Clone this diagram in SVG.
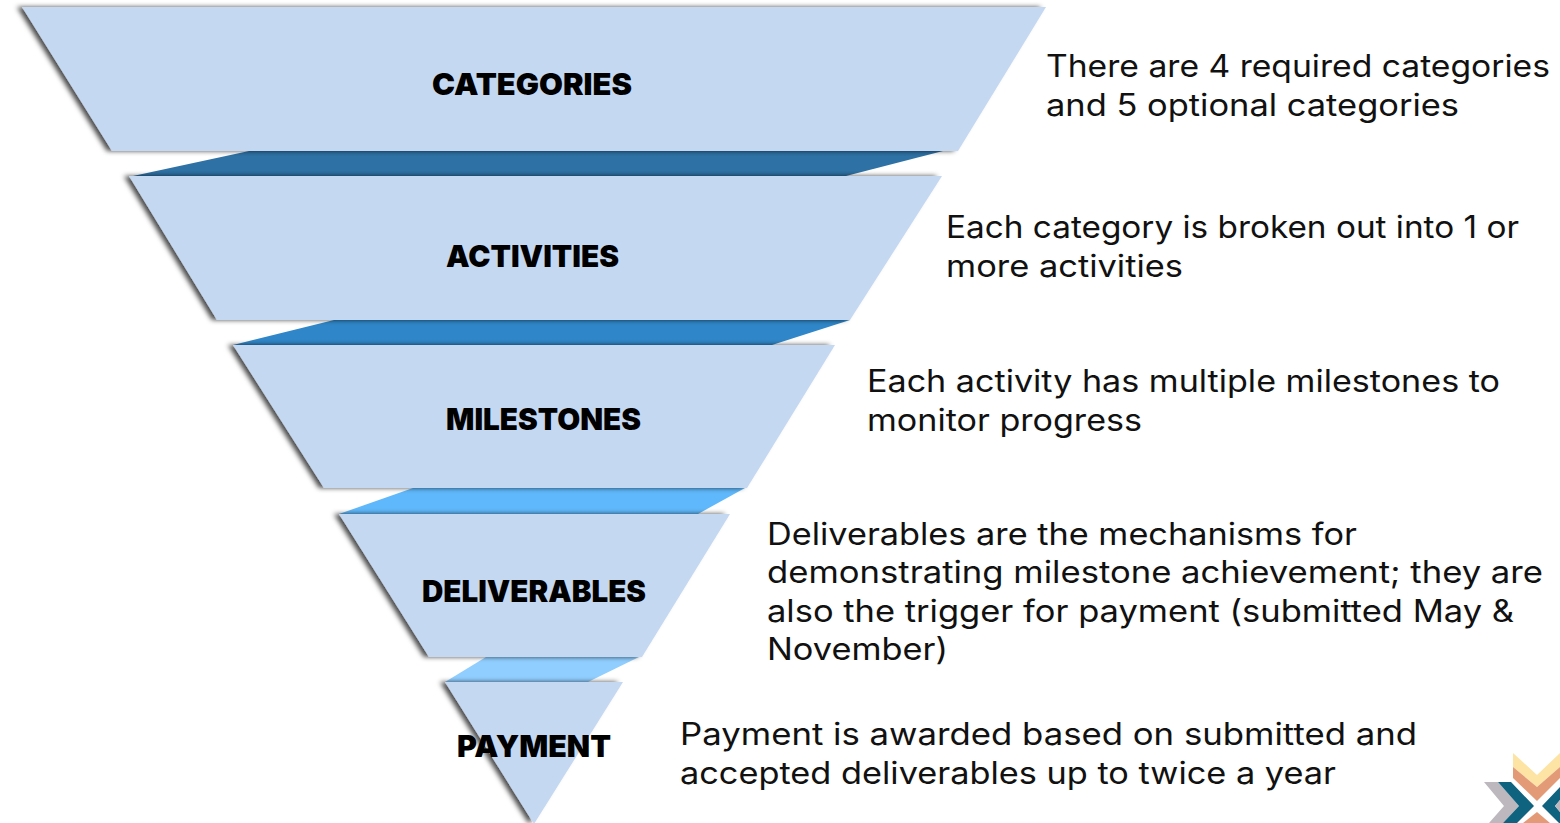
<svg xmlns="http://www.w3.org/2000/svg" width="1560" height="823" viewBox="0 0 1560 823">
<style>
.t{fill:#c5d8f1;filter:url(#sh)}
.l{font-family:"Inter","Noto Sans","Liberation Sans",sans-serif;font-weight:900;font-size:30px;fill:#000}
.d{font-family:"Inter","Noto Sans","Liberation Sans",sans-serif;font-weight:400;font-size:31px;fill:#111}
</style>
<defs>
<filter id="sh" x="-10%" y="-10%" width="120%" height="120%"><feDropShadow dx="-5" dy="0" stdDeviation="2.5" flood-color="#000" flood-opacity="0.7"/></filter>
</defs>
<rect width="1560" height="823" fill="#fff"/>
<g id="connectors">
<polygon points="249,151 943,151 846,176 133,176" fill="#2e71a4"/>
<polygon points="334,320 850,320 772,345 233,345" fill="#2f86c8"/>
<polygon points="413,488 745,488 698,514 339,514" fill="#5fb8fb"/>
<polygon points="486,657 639,657 588,682 445,682" fill="#90ceff"/>
</g>
<g id="categories"><polygon class="t" points="22,7 1046,7 958,151 112,151"/><text class="l" x="432" y="95" textLength="200" lengthAdjust="spacingAndGlyphs">CATEGORIES</text>
<text class="d" x="1046" y="77" textLength="504" lengthAdjust="spacingAndGlyphs">There are 4 required categories</text><text class="d" x="1046" y="116" textLength="413" lengthAdjust="spacingAndGlyphs">and 5 optional categories</text></g>
<g id="activities"><polygon class="t" points="129,176 942,176 850,320 217,320"/><text class="l" x="446" y="267" textLength="173" lengthAdjust="spacingAndGlyphs">ACTIVITIES</text>
<text class="d" x="946" y="238" textLength="573" lengthAdjust="spacingAndGlyphs">Each category is broken out into 1 or</text><text class="d" x="946" y="277" textLength="237" lengthAdjust="spacingAndGlyphs">more activities</text></g>
<g id="milestones"><polygon class="t" points="233,345 835,345 747,488 324,488"/><text class="l" x="446" y="430" textLength="195" lengthAdjust="spacingAndGlyphs">MILESTONES</text>
<text class="d" x="867" y="392" textLength="633" lengthAdjust="spacingAndGlyphs">Each activity has multiple milestones to</text><text class="d" x="867" y="431" textLength="275" lengthAdjust="spacingAndGlyphs">monitor progress</text></g>
<g id="deliverables"><polygon class="t" points="339,514 730,514 642,657 429,657"/><text class="l" x="422" y="602" textLength="224" lengthAdjust="spacingAndGlyphs">DELIVERABLES</text>
<text class="d" x="767" y="545" textLength="590" lengthAdjust="spacingAndGlyphs">Deliverables are the mechanisms for</text><text class="d" x="767" y="583" textLength="776" lengthAdjust="spacingAndGlyphs">demonstrating milestone achievement; they are</text><text class="d" x="767" y="622" textLength="747" lengthAdjust="spacingAndGlyphs">also the trigger for payment (submitted May &amp;</text><text class="d" x="767" y="660" textLength="181" lengthAdjust="spacingAndGlyphs">November)</text></g>
<g id="payment"><polygon class="t" points="445,682 623,682 534,824"/><text class="l" x="457" y="757" textLength="154" lengthAdjust="spacingAndGlyphs">PAYMENT</text>
<text class="d" x="680" y="745" textLength="737" lengthAdjust="spacingAndGlyphs">Payment is awarded based on submitted and</text><text class="d" x="680" y="784" textLength="656" lengthAdjust="spacingAndGlyphs">accepted deliverables up to twice a year</text></g>
<g id="logo">
<polygon points="1513,753 1537,775 1560,753 1560,767 1537,787 1513,767" fill="#fde3a4"/>
<polygon points="1513,767 1537,787 1560,767 1560,778 1537,801 1513,778" fill="#e39a76"/>
<polygon points="1484,782 1498,782 1519,806 1503,823 1489,823 1504,806" fill="#bdb7be"/>
<polygon points="1498,782 1511,782 1534,806 1517,823 1503,823 1519,806" fill="#10637f"/>
<polygon points="1542,806 1560,787 1560,800 1555,806 1560,812 1560,823 1559,823" fill="#10637f"/>
<polygon points="1555,806 1560,800 1560,812" fill="#bdb7be"/>
<polygon points="1537,812 1523,823 1550,823" fill="#e39a76"/>
</g>
</svg>
